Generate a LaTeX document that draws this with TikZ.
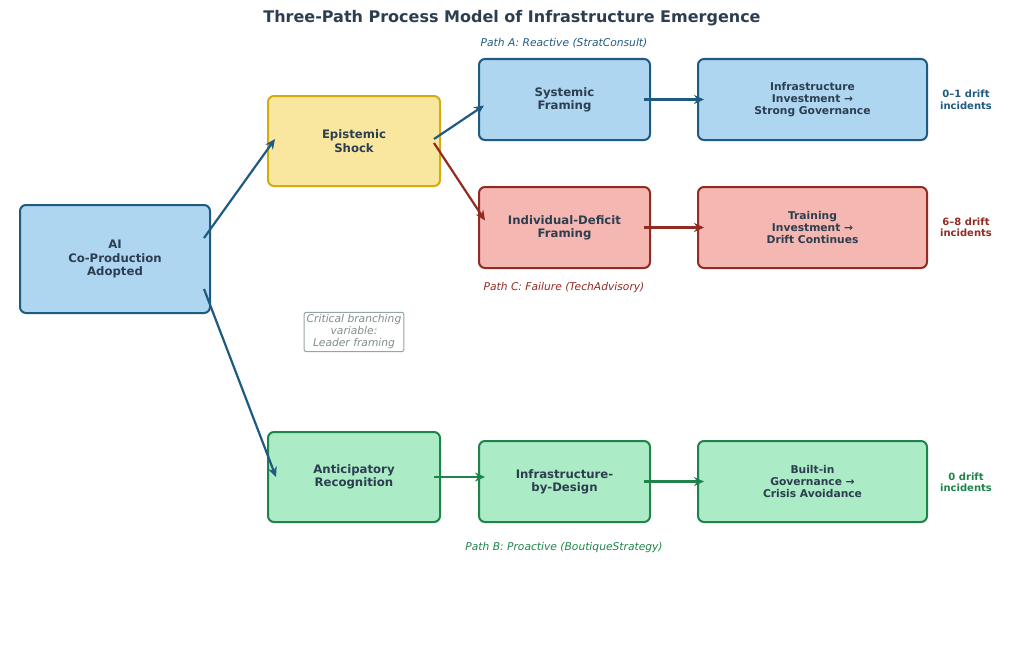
\documentclass[tikz,border=0pt]{standalone}
\usepackage{fontspec}
\setmainfont{DejaVu Sans}
\usetikzlibrary{arrows.meta}
\definecolor{txt}{HTML}{2C3E50}
\definecolor{bfill}{HTML}{AED6F1}\definecolor{bline}{HTML}{1F5A80}
\definecolor{yfill}{HTML}{F9E79F}\definecolor{yline}{HTML}{D4AC0D}
\definecolor{rfill}{HTML}{F5B7B1}\definecolor{rline}{HTML}{922B21}
\definecolor{gfill}{HTML}{ABEBC6}\definecolor{gline}{HTML}{1E8449}
\definecolor{grey}{HTML}{7F8C8D}\definecolor{greyline}{HTML}{95A5A6}
\begin{document}
\begin{tikzpicture}[x=1pt,y=-1pt,
  box/.style={draw,line width=2pt,rounded corners=6pt,align=center,text=txt,inner sep=0pt,
    font=\bfseries\fontsize{11.7}{13.3}\selectfont},
  bigbox/.style={box,font=\bfseries\fontsize{10.7}{11.6}\selectfont},
  blue/.style={fill=bfill,draw=bline},
  yel/.style={fill=yfill,draw=yline},
  red/.style={fill=rfill,draw=rline},
  grn/.style={fill=gfill,draw=gline},
  arr/.style={line width=2.2pt,-{Stealth[length=10pt,width=9pt]}},
  lab/.style={font=\itshape\fontsize{10.7}{12}\selectfont},
  drift/.style={font=\bfseries\fontsize{10}{11.5}\selectfont,align=center}]
\useasboundingbox (0,0) rectangle (1024,661);
\node[font=\bfseries\fontsize{16}{18}\selectfont,text=txt] (title) at (512,18.5) {Three-Path Process Model of Infrastructure Emergence};

\node[box,blue,minimum width=190pt,minimum height=108pt] (ai) at (115,259) {AI\\Co-Production\\Adopted};
\node[box,yel,minimum width=172pt,minimum height=90pt] (es) at (354,141) {Epistemic\\Shock};
\node[box,blue,minimum width=171pt,minimum height=81pt] (sf) at (564.5,99.5) {Systemic\\Framing};
\node[bigbox,blue,minimum width=229pt,minimum height=81pt] (ii) at (812.5,99.5) {Infrastructure\\Investment →\\Strong Governance};
\node[box,red,minimum width=171pt,minimum height=81pt] (idf) at (564.5,227.5) {Individual-Deficit\\Framing};
\node[bigbox,red,minimum width=229pt,minimum height=81pt] (ti) at (812.5,227.5) {Training\\Investment →\\Drift Continues};
\node[box,grn,minimum width=172pt,minimum height=90pt] (ar) at (354,477) {Anticipatory\\Recognition};
\node[box,grn,minimum width=171pt,minimum height=81pt] (ibd) at (564.5,481.5) {Infrastructure-\\by-Design};
\node[bigbox,grn,minimum width=229pt,minimum height=81pt] (bg) at (812.5,481.5) {Built-in\\Governance →\\Crisis Avoidance};

\node[drift,text=bline] (da) at (966,100) {0–1 drift\\incidents};
\node[drift,text=rline] (dc) at (966,227.5) {6–8 drift\\incidents};
\node[drift,text=gline] (db) at (966,482.5) {0 drift\\incidents};

\node[lab,text=bline] (pa) at (564,43) {Path A: Reactive (StratConsult)};
\node[lab,text=rline] (pc) at (564,288) {Path C: Failure (TechAdvisory)};
\node[lab,text=gline] (pb) at (564,548) {Path B: Proactive (BoutiqueStrategy)};

\node[draw=greyline,line width=1pt,rounded corners=2pt,text=grey,align=center,inner sep=2.5pt,
  font=\itshape\fontsize{10.7}{12}\selectfont] (cb) at (354,332) {Critical branching\\variable:\\Leader framing};

\draw[arr,bline] ([xshift=-7pt,yshift=21pt]ai.east) -- ([xshift=8pt,yshift=2pt]es.west);
\draw[arr,bline] ([xshift=-7pt,yshift=-30pt]ai.east) -- ([xshift=9pt]ar.west);
\draw[arr,bline] ([xshift=-7pt,yshift=2pt]es.east) -- ([xshift=6pt,yshift=-6pt]sf.west);
\draw[arr,rline] ([xshift=-7pt,yshift=-2pt]es.east) -- ([xshift=7pt,yshift=7pt]idf.west);
\draw[arr,bline] ([xshift=-7pt]sf.east) -- ([xshift=7pt]ii.west);
\draw[arr,rline] ([xshift=-7pt]idf.east) -- ([xshift=7pt]ti.west);
\draw[arr,gline] ([xshift=-7pt]ar.east) -- ([xshift=7pt,yshift=4.5pt]ibd.west);
\draw[arr,gline] ([xshift=-7pt]ibd.east) -- ([xshift=7pt]bg.west);
\end{tikzpicture}
\end{document}
